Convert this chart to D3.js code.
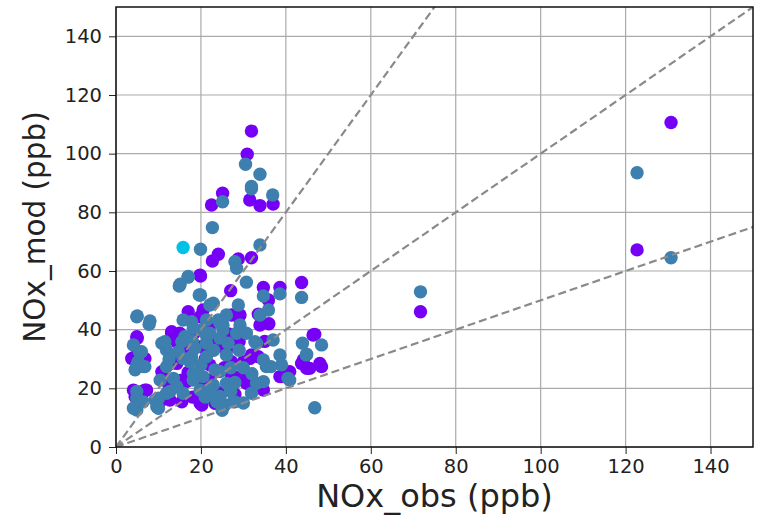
<!DOCTYPE html>
<html>
<head>
<meta charset="utf-8">
<script src="https://cdn.jsdelivr.net/npm/d3@7"></script>
<style>
  body { margin: 0; background: #fff; }
  text { font-family: "DejaVu Sans", sans-serif; fill: #222; }
</style>
</head>
<body>
<div id="root"></div>
<script>
// [NOx_obs, NOx_mod] pairs
const purplePts = [
  [31.9,107.7],[30.9,99.8],[25.1,86.5],[22.5,82.5],[31.5,84.2],[33.9,82.3],[37,82.8],
  [24.1,65.7],[22.7,63.4],[31.9,64.5],[28.8,64.1],[43.7,56.1],[38.6,54.4],[34.7,54.4],
  [35.9,50.1],[27,53.3],[19.9,58.3],[17,46.1],[20.5,46.7],[27.2,45],[33.5,45.3],[28.8,44.4],
  [33.9,41.6],[46.8,38.4],[43.7,28.5],[44.9,26.8],[48,28.5],[48.4,27.4],[39,24],[40.9,25.7],
  [33.5,30.8],[31.9,31.4],[30.7,21.7],[32.3,22.3],[34.7,19.4],[27.2,24.5],[5,37.1],[3.7,30.2],
  [6.8,30.2],[4.1,19.4],[6.8,19.4],[6,17.2],[9.6,16],[12.7,16],[10.8,25.7],[13.1,38.8],
  [15,38.8],[14.3,28.5],[19,34.2],[16.6,34.8],[24.1,35.9],[29.2,45],[31.5,30.2],[27.2,29.1],
  [16.6,22.3],[22.1,22.8],[15,20.6],[19.8,14.9],[15.5,15.4],[23.3,14.9],[24.3,18.5],[29.2,24],
  [31.5,22.8],[38.6,24],[44.1,29.7],[45.6,26.8],[46.4,38.2],[71.7,46.1],[130.7,110.6],[122.7,67.2],
  [19.8,58.6],[19.8,44.4],[14.3,35.9],[20.2,34.2],[22.1,28],[12.3,28],[4.5,17.1],[7.2,19.4],
  [10.4,15.4],[12.3,16.6],[15.5,22.8],[19.8,22.3],[20.2,14.3],[24.5,17.7],[15.5,31.9],[4.5,30.8],
  [4.9,37.6],[13.1,39.3],[17,25.5],[26,33],[29,36],[21,30],[18,17],[36,42],[12.5,21],[25.5,27],
  [28,18],[22,41],[18.5,39],[26.5,38.5],[30,29],[35,36]
];
const bluePts = [
  [30.5,96.4],[33.9,93],[31.9,88.8],[31.9,88],[36.9,85.9],[25.1,83.6],[22.7,74.8],[19.9,67.4],
  [33.9,68.9],[28,63.2],[28.4,60.9],[30.7,56.2],[43.7,51],[38.6,52.2],[34.7,51.5],[35.9,46.7],
  [19.9,51.8],[17,57.9],[14.9,54.9],[15.1,55.5],[5,44.7],[8,43],[22.9,49],[28.8,48.4],[33.9,45],
  [37,36.5],[43.9,35.4],[48.4,34.8],[44.9,31.6],[38.6,31.4],[39,28],[40.5,23.4],[34.7,29.7],
  [33.1,35.4],[29.2,41.6],[26,45],[25.2,41.6],[34.7,22.3],[31.9,18.3],[28,15.4],[46.8,13.4],
  [25.6,14.3],[4.1,34.8],[5.5,32.5],[5.2,29.1],[4.5,26.3],[6.8,27.4],[4.9,16.6],[4.9,12.6],
  [9.2,16],[9.6,13.7],[11.9,18.3],[11.9,27.4],[11.9,33.1],[15.5,35.9],[17.8,42.7],[21.3,43.3],
  [20.1,39.9],[14.7,32.5],[15.8,30.2],[17.8,30.8],[21.3,35.4],[22.1,38.8],[24.1,43.3],[25.2,39.9],
  [26.4,35.4],[28.4,38.8],[30.7,38.8],[32.7,35.9],[26,31.4],[13.5,23.4],[10.4,22.8],[18.2,25.1],
  [20.5,24],[23.3,26.3],[15.8,18.3],[19.8,19.4],[22.9,21.1],[24.5,17.2],[26,21.7],[27.6,15.4],
  [40.9,22.8],[33.1,21.7],[35.4,27.4],[36.5,27.4],[44.8,31.4],[10.8,35.4],[12.7,18.9],[71.7,52.9],
  [122.7,93.5],[130.7,64.5],[15.8,43.3],[18.2,40.5],[11.5,35.9],[16.2,37.6],[6,32.5],[4.9,28],
  [6.4,27.4],[18.6,33.7],[21.3,38.2],[21.3,30.8],[17.4,29.1],[24.5,37.1],[24.5,42.2],[4.9,18.9],
  [6.4,15.4],[4.1,13.2],[10,16.6],[10,13.2],[14.3,20.6],[18.2,22.8],[22.1,18.9],[23.7,15.4],
  [24.5,25.7],[22.1,48.4],[19.6,51.8],[17,58.1],[7.8,41.8],[4.9,44.4],[12.5,30],[27,27],[29,33],
  [30,27],[27,19],[20,28],[23,33],[18,36],[28,22],[25,12.5],[21,17],[30,15],[32,25]
];
const cyanPts = [[15.8,68]];

const ticks = [0, 20, 40, 60, 80, 100, 120, 140];
const refSlopes = [2, 1, 0.5];

const w = 761;
const h = 519;
const padLeft = 116;
const padRight = 8;
const padTop = 7;
const padBottom = 72;

const xScale = d3.scaleLinear().domain([0, 150]).range([padLeft, w - padRight]);
const yScale = d3.scaleLinear().domain([0, 150]).range([h - padBottom, padTop]);

const svg = d3.select("#root")
  .append("svg")
  .attr("width", w)
  .attr("height", h);

// grid
svg.append("g")
  .selectAll("line.gx")
  .data(ticks)
  .enter()
  .append("line")
  .attr("x1", d => xScale(d)).attr("x2", d => xScale(d))
  .attr("y1", padTop).attr("y2", h - padBottom)
  .attr("stroke", "#aaaaaa").attr("stroke-width", 1.2);
svg.append("g")
  .selectAll("line.gy")
  .data(ticks)
  .enter()
  .append("line")
  .attr("x1", padLeft).attr("x2", w - padRight)
  .attr("y1", d => yScale(d)).attr("y2", d => yScale(d))
  .attr("stroke", "#aaaaaa").attr("stroke-width", 1.2);

// points
const plot = svg.append("g");
function drawPts(data, color) {
  plot.selectAll(null)
    .data(data)
    .enter()
    .append("circle")
    .attr("cx", d => xScale(d[0]))
    .attr("cy", d => yScale(d[1]))
    .attr("r", 6.7)
    .attr("fill", color);
}
drawPts(purplePts, "#7600f5");
drawPts(bluePts, "#3d7fae");
drawPts(cyanPts, "#00c2e6");

// 1:2, 1:1, 2:1 lines
svg.append("defs").append("clipPath").attr("id", "clip")
  .append("rect")
  .attr("x", padLeft).attr("y", padTop)
  .attr("width", w - padLeft - padRight).attr("height", h - padTop - padBottom);
svg.append("g")
  .attr("clip-path", "url(#clip)")
  .selectAll("line")
  .data(refSlopes)
  .enter()
  .append("line")
  .attr("x1", xScale(0)).attr("y1", yScale(0))
  .attr("x2", d => xScale(150)).attr("y2", d => yScale(150 * d))
  .attr("stroke", "#8a8a8a")
  .attr("stroke-width", 2.2)
  .attr("stroke-dasharray", "8,4");

// axes
const xAxis = d3.axisBottom(xScale).tickValues(ticks).tickSize(7).tickPadding(5);
const gx = svg.append("g")
  .attr("transform", "translate(0," + (h - padBottom) + ")")
  .call(xAxis);
const yAxis = d3.axisLeft(yScale).tickValues(ticks).tickSize(7).tickPadding(7);
const gy = svg.append("g")
  .attr("transform", "translate(" + padLeft + ",0)")
  .call(yAxis);
[gx, gy].forEach(g => {
  g.select(".domain").remove();
  g.selectAll(".tick line").attr("stroke", "#222").attr("stroke-width", 1);
  g.selectAll(".tick text").style("font-size", "19.5px").attr("fill", "#222");
});

// frame
svg.append("rect")
  .attr("x", padLeft).attr("y", padTop)
  .attr("width", w - padLeft - padRight).attr("height", h - padTop - padBottom)
  .attr("fill", "none").attr("stroke", "#111").attr("stroke-width", 1.5);

// labels
svg.append("text")
  .attr("x", (padLeft + w - padRight) / 2)
  .attr("y", h - 12)
  .attr("text-anchor", "middle")
  .style("font-size", "32px")
  .text("NOx_obs (ppb)");

svg.append("text")
  .attr("transform", "translate(45," + ((padTop + h - padBottom) / 2) + ") rotate(-90)")
  .attr("text-anchor", "middle")
  .style("font-size", "29.5px")
  .text("NOx_mod (ppb)");
</script>
</body>
</html>
